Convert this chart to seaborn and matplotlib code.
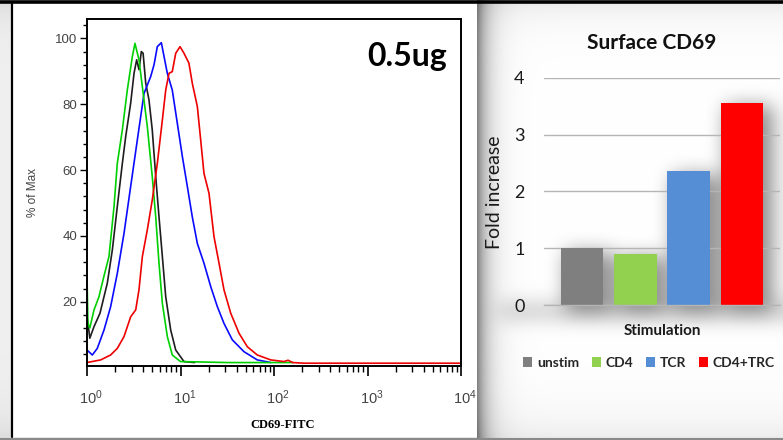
import numpy as np
import pandas as pd
import matplotlib
matplotlib.use("Agg")
import matplotlib.pyplot as plt
import matplotlib.ticker as mticker
import matplotlib.transforms as mtransforms
from matplotlib.patches import Rectangle
from matplotlib.lines import Line2D
import seaborn as sns

# ---------------- data ----------------
# CD69-FITC histograms (log10 intensity, % of max)
unstim_log10 = [0.0, 0.01, 0.03, 0.075, 0.139, 0.217, 0.271, 0.324, 0.378, 0.414, 0.467,
                0.503, 0.531, 0.556, 0.581, 0.60, 0.628, 0.663, 0.698, 0.735, 0.77, 0.806,
                0.842, 0.895, 0.949, 1.037, 1.15]
unstim_pct = [15.0, 13.5, 8.9, 12.4, 16.5, 25.6, 35.7, 48.9, 62.0, 70.2, 80.3,
              89.4, 93.5, 90.5, 96.0, 95.5, 86.4, 81.3, 72.2, 58.0, 45.8, 33.7,
              21.5, 11.4, 5.3, 1.8, 1.5]

cd4_log10 = [0.0, 0.01, 0.03, 0.075, 0.128, 0.18, 0.235, 0.289, 0.324, 0.378, 0.431,
             0.485, 0.513, 0.556, 0.592, 0.645, 0.698, 0.735, 0.77, 0.806, 0.859,
             0.912, 1.0, 1.5, 2.2]
cd4_pct = [28.0, 13.5, 12.0, 17.5, 21.5, 27.6, 33.7, 48.9, 62.0, 72.2, 84.3,
           94.5, 98.5, 93.5, 85.3, 73.2, 58.0, 45.8, 31.7, 19.5, 9.4,
           3.8, 1.8, 1.5, 1.5]

tcr_log10 = [0.0, 0.057, 0.11, 0.182, 0.253, 0.324, 0.396, 0.467, 0.538, 0.61, 0.681,
             0.717, 0.752, 0.795, 0.824, 0.859, 0.912, 0.966, 1.02, 1.073, 1.126,
             1.18, 1.251, 1.323, 1.394, 1.465, 1.554, 1.679, 1.821, 1.965]
tcr_pct = [5.3, 3.8, 5.8, 11.4, 18.5, 28.6, 40.8, 55.0, 69.1, 83.3, 88.4,
           92.0, 97.5, 98.7, 94.5, 89.4, 84.3, 74.2, 64.1, 55.0, 45.8,
           37.7, 31.7, 24.6, 18.5, 13.4, 8.4, 4.8, 2.3, 1.5]

cd4tcr_log10 = [0.0, 0.146, 0.253, 0.324, 0.396, 0.467, 0.521, 0.556, 0.592, 0.645, 0.698,
                0.752, 0.806, 0.842, 0.877, 0.912, 0.949, 0.995, 1.037, 1.09, 1.126,
                1.18, 1.216, 1.251, 1.305, 1.358, 1.412, 1.465, 1.537, 1.626, 1.715,
                1.821, 1.965, 2.107, 2.15, 2.2, 2.32, 3.0, 4.0]
cd4tcr_pct = [1.5, 2.3, 3.8, 5.8, 9.4, 15.4, 17.5, 23.6, 33.7, 41.8, 50.9,
              62.0, 75.2, 84.3, 89.4, 89.9, 95.5, 97.5, 95.5, 92.5, 86.4,
              79.3, 69.1, 59.0, 52.9, 39.8, 31.7, 23.6, 16.5, 10.4, 6.3,
              3.8, 2.3, 1.8, 2.2, 1.5, 1.3, 1.3, 1.3]

hist_series = [
    ("unstim", unstim_log10, unstim_pct, "#1e1e1e"),
    ("TCR", tcr_log10, tcr_pct, "#0a0aff"),
    ("CD4", cd4_log10, cd4_pct, "#00d000"),
    ("CD4+TCR", cd4tcr_log10, cd4tcr_pct, "#ee0000"),
]

# Fold increase of surface CD69
stimulation = ["unstim", "CD4", "TCR", "CD4+TRC"]
fold_increase = [1.0, 0.90, 2.36, 3.56]
bar_colors = ["#7f7f7f", "#92d050", "#558ed5", "#ff0000"]

# ---------------- figure ----------------
W, H, DPI = 783, 440, 100
sns.set_theme(style="white")
plt.rcParams['font.family'] = ['Liberation Sans', 'DejaVu Sans']
plt.rcParams['mathtext.default'] = 'regular'

fig = plt.figure(figsize=(W / DPI, H / DPI), dpi=DPI)
fig.patch.set_facecolor("white")


def fx(px):
    return px / W


def fy(py):
    return 1 - py / H


bg = fig.add_axes([0, 0, 1, 1], zorder=0)
bg.set_xlim(0, W)
bg.set_ylim(H, 0)
bg.axis("off")

# ---- histogram panel ----
ax1 = fig.add_axes([fx(87), fy(366), fx(461) - fx(87), fy(19) - fy(366)], zorder=2)
for name, lx, pct, col in hist_series:
    d = pd.DataFrame({"CD69-FITC": 10 ** np.asarray(lx), "pct": pct})
    sns.lineplot(data=d, x="CD69-FITC", y="pct", ax=ax1, color=col, lw=1.2,
                 sort=False, estimator=None)
ax1.set_xscale("log")
ax1.set_xlim(1, 1e4)
ax1.set_ylim(0.45, 105.9)
ax1.set_facecolor("white")
for s in ax1.spines.values():
    s.set_color("black")
    s.set_linewidth(1.4)
ax1.yaxis.set_major_locator(mticker.FixedLocator([20, 40, 60, 80, 100]))
ax1.yaxis.set_minor_locator(mticker.MultipleLocator(4))
ax1.xaxis.set_major_locator(mticker.LogLocator(base=10, numticks=10))
ax1.xaxis.set_minor_locator(mticker.LogLocator(base=10, subs=np.arange(2, 10), numticks=10))
ax1.tick_params(axis="y", which="major", left=True, direction="out", length=5, width=1,
                color="black", labelsize=9.5, labelcolor="#444444", pad=2)
ax1.tick_params(axis="y", which="minor", left=True, direction="out", length=3, width=1,
                color="black")
ax1.tick_params(axis="x", which="major", bottom=True, direction="out", length=7, width=1.2,
                color="black", labelsize=10.5, labelcolor="#444444", pad=9)
ax1.tick_params(axis="x", which="minor", bottom=True, direction="out", length=4, width=1,
                color="black")
# decade labels sit slightly to the right of their ticks
shift = mtransforms.ScaledTranslation(4 / DPI, 0, fig.dpi_scale_trans)
for lab in ax1.get_xticklabels():
    lab.set_transform(lab.get_transform() + shift)
ax1.set_xlabel("CD69-FITC", family=["Liberation Serif"], fontweight="bold", fontsize=9,
               color="black")
ax1.xaxis.set_label_coords(0.524, -0.152)
ax1.set_ylabel("% of Max", fontsize=8.5, color="#444444")
ax1.yaxis.set_label_coords(-0.128, 0.5)
ax1.text(0.962, 0.893, "0.5ug", transform=ax1.transAxes, ha="right", va="center",
         family=["Lato", "DejaVu Sans"], fontweight="bold", fontsize=23, color="black")

# ---- bar panel ----
ax2 = fig.add_axes([fx(544), fy(305), fx(780) - fx(544), fy(78) - fy(305)], zorder=3)
df = pd.DataFrame({"Stimulation": stimulation, "Fold increase": fold_increase})
sns.barplot(data=df, x="Stimulation", y="Fold increase", hue="Stimulation",
            palette=bar_colors, width=0.8, saturation=1, linewidth=0, ax=ax2, legend=True)
ax2.set_facecolor("none")
ax2.set_xlim(-0.71, 3.71)
ax2.set_ylim(0, 4.0)
ax2.set_yticks([0, 1, 2, 3, 4])
ax2.set_yticklabels(["0", "1", "2", "3", "4"])
ax2.yaxis.grid(True, color="#b5b5b5", lw=1)
ax2.set_axisbelow(True)
for k in ["left", "right", "top"]:
    ax2.spines[k].set_visible(False)
ax2.spines["bottom"].set_color("#b5b5b5")
ax2.spines["bottom"].set_linewidth(1)
ax2.tick_params(axis="y", length=0, pad=14, labelsize=13, labelcolor="#1a1a1a")
for t in ax2.get_yticklabels():
    t.set_family(["Lato", "DejaVu Sans"])
ax2.set_xticks([])
ax2.set_xlabel("Stimulation", family=["Lato", "DejaVu Sans"], fontweight="bold",
               fontsize=11, color="#1a1a1a")
ax2.xaxis.set_label_coords(0.5, -0.085)
ax2.set_ylabel("Fold increase", family=["Lato", "DejaVu Sans"], fontsize=14,
               color="#1a1a1a")
ax2.yaxis.set_label_coords(-0.175, 0.498)
fig.text(fx(652), fy(43), "Surface CD69", ha="center", va="center",
         family=["Lato", "DejaVu Sans"], fontweight="bold", fontsize=15, color="#111111")

sns.move_legend(ax2, "center", bbox_to_anchor=(0.445, -0.2555), ncol=4, frameon=False,
                title=None, handlelength=0.65, handleheight=0.65, handletextpad=0.35,
                columnspacing=0.9,
                prop={"family": ["Lato", "DejaVu Sans"], "weight": "bold", "size": 10})

# ---- background: page shading and soft shadow behind the bars ----
fig.canvas.draw()
yy, xx = np.mgrid[0:H, 0:W].astype(float)
shade = np.zeros((H, W))
# dark fold between the two panels
shade += 0.48 * np.exp(-np.clip(xx - 477, 0, None) / 11.0) * (xx >= 477)
# light gray frame along the top and bottom
shade += 0.07 * np.exp(-np.clip(yy - 4, 0, None) / 18.0)
shade += 0.08 * np.exp(-np.clip(440 - yy, 0, None) / 25.0)
shade += 0.06 * (xx < 11)

mask = np.zeros((H, W))
for p in ax2.patches:
    bb = p.get_window_extent()
    if bb.width <= 0 or bb.height <= 0:
        continue
    x0, x1 = int(bb.x0) + 6, int(bb.x1) + 10
    y0, y1 = int(H - bb.y1) + 4, int(H - bb.y0) + 10
    mask[max(y0, 0):min(y1, H), max(x0, 0):min(x1, W)] = 1.0
ab = ax2.get_window_extent()
band_y0 = int(H - ab.y0)
mask[band_y0:band_y0 + 12, 500:W] = np.maximum(mask[band_y0:band_y0 + 12, 500:W], 0.6)


def box_blur(a, r):
    k = np.ones(2 * r + 1) / (2 * r + 1)
    a = np.apply_along_axis(lambda v: np.convolve(np.pad(v, r, mode="edge"), k, "valid"), 0, a)
    a = np.apply_along_axis(lambda v: np.convolve(np.pad(v, r, mode="edge"), k, "valid"), 1, a)
    return a


soft = mask
for _ in range(3):
    soft = box_blur(soft, 9)
shade += 0.45 * soft * (xx >= 477)
val = np.clip(1 - shade, 0, 1)
bg.imshow(np.dstack([val, val, val]), extent=(0, W, H, 0), aspect="auto",
          interpolation="bilinear", zorder=0)

# white page holding the histogram
bg.add_patch(Rectangle((11.5, 3), 465.5, 434.5, facecolor="white", edgecolor="none", zorder=1))
bg.add_line(Line2D([11.5, 11.5], [3, 437.5], color="black", lw=1.6, zorder=2))
bg.add_line(Line2D([0, W], [2.5, 2.5], color="black", lw=2.6, zorder=2))
bg.add_line(Line2D([0, W], [438.8, 438.8], color="#8a8a8a", lw=1.5, zorder=2))
bg.set_xlim(0, W)
bg.set_ylim(H, 0)

fig.savefig("out.png", dpi=DPI)
